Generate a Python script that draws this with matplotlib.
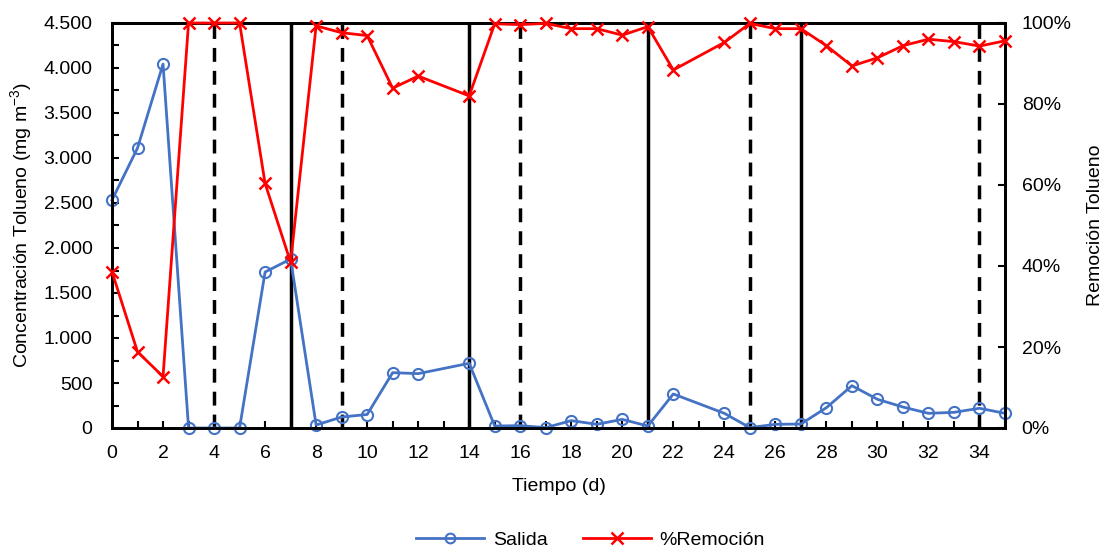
import matplotlib
matplotlib.use("Agg")
import matplotlib.pyplot as plt
from matplotlib.ticker import FuncFormatter, MultipleLocator
from matplotlib.lines import Line2D

plt.rcParams['font.family'] = ['Liberation Sans', 'DejaVu Sans']

# Days sampled
dias = [0, 1, 2, 3, 4, 5, 6, 7, 8, 9, 10, 11, 12, 14, 15, 16, 17, 18, 19, 20,
        21, 22, 24, 25, 26, 27, 28, 29, 30, 31, 32, 33, 34, 35]
# Outlet toluene concentration (mg m-3)
salida = [2533, 3111, 4044, 0, 0, 0, 1733, 1877, 33, 122, 150, 615, 604, 719, 22, 26,
          4, 82, 41, 96, 22, 378, 163, 4, 41, 44, 226, 470, 319, 233, 163, 174, 219, 163]
# Toluene removal (%)
remocion = [38.6, 18.8, 12.7, 100, 100, 100, 60.4, 40.9, 99.3, 97.6, 96.9, 83.9, 86.9,
            82.0, 99.8, 99.6, 99.9, 98.6, 98.6, 97.0, 99.1, 88.4, 95.2, 99.9, 98.6, 98.6,
            94.4, 89.4, 91.4, 94.4, 96.0, 95.4, 94.3, 95.6]
# Stage boundaries
lineas_continuas = [7, 14, 21, 27]
lineas_discontinuas = [4, 9, 16, 25, 34]

azul = '#4472C4'
rojo = '#FF0000'
fs = 14

fig = plt.figure(figsize=(11.1, 5.51), dpi=100)
ax = fig.add_axes([112/1110, 1 - 428/551, (1005-112)/1110, (428-23)/551])
ax2 = ax.twinx()

for d in lineas_continuas:
    ax.axvline(d, color='black', lw=2.5, zorder=1)
for d in lineas_discontinuas:
    ax.axvline(d, color='black', lw=2.5, ls=(0, (4, 2.6)), zorder=1)

ax.plot(dias, salida, color=azul, lw=2, marker='o', markersize=8,
        markerfacecolor='none', markeredgecolor=azul, markeredgewidth=1.5,
        clip_on=False, zorder=3)
ax2.plot(dias, [r / 100 for r in remocion], color=rojo, lw=2, marker='x', markersize=9,
         markeredgewidth=1.8, clip_on=False, zorder=3)

ax.set_xlim(0, 35)
ax.set_ylim(0, 4500)
ax2.set_ylim(0, 1.0)

ax.xaxis.set_major_locator(MultipleLocator(2))
ax.xaxis.set_minor_locator(MultipleLocator(1))
ax.yaxis.set_major_locator(MultipleLocator(500))
ax.yaxis.set_minor_locator(MultipleLocator(250))
ax2.yaxis.set_major_locator(MultipleLocator(0.2))

ax.yaxis.set_major_formatter(FuncFormatter(lambda v, p: f"{int(v):,}".replace(",", ".")))
ax2.yaxis.set_major_formatter(FuncFormatter(lambda v, p: f"{int(round(v*100))}%"))

ax.tick_params(axis='both', which='both', direction='in', length=5, width=1.5,
               labelsize=fs, colors='black')
ax.tick_params(axis='y', which='major', pad=14)
ax.tick_params(axis='x', which='major', pad=12)
ax.tick_params(axis='x', which='both', top=False)
ax2.tick_params(axis='y', which='both', direction='in', length=5, width=1.5,
                labelsize=fs, pad=12)

for a in (ax, ax2):
    for s in a.spines.values():
        s.set_linewidth(2)
        s.set_color('black')

ax.set_xlabel('Tiempo (d)', fontsize=fs, labelpad=12)
ax.set_ylabel('Concentración Tolueno (mg m$^{\\mathregular{-3}}$)', fontsize=fs, labelpad=6)
ax2.set_ylabel('Remoción Tolueno', fontsize=fs, labelpad=11)

handles = [
    Line2D([], [], color=azul, lw=2, marker='o', markersize=7, markerfacecolor='none',
           markeredgewidth=1.5),
    Line2D([], [], color=rojo, lw=2, marker='x', markersize=8, markeredgewidth=1.8),
]
fig.legend(handles, ['Salida', '%Remoción'], loc='center', bbox_to_anchor=(0.532, 1 - 540/551),
           ncol=2, frameon=False, fontsize=fs, handlelength=3.5, columnspacing=1.8,
           handletextpad=0.45)

fig.savefig('out.png', dpi=100)
